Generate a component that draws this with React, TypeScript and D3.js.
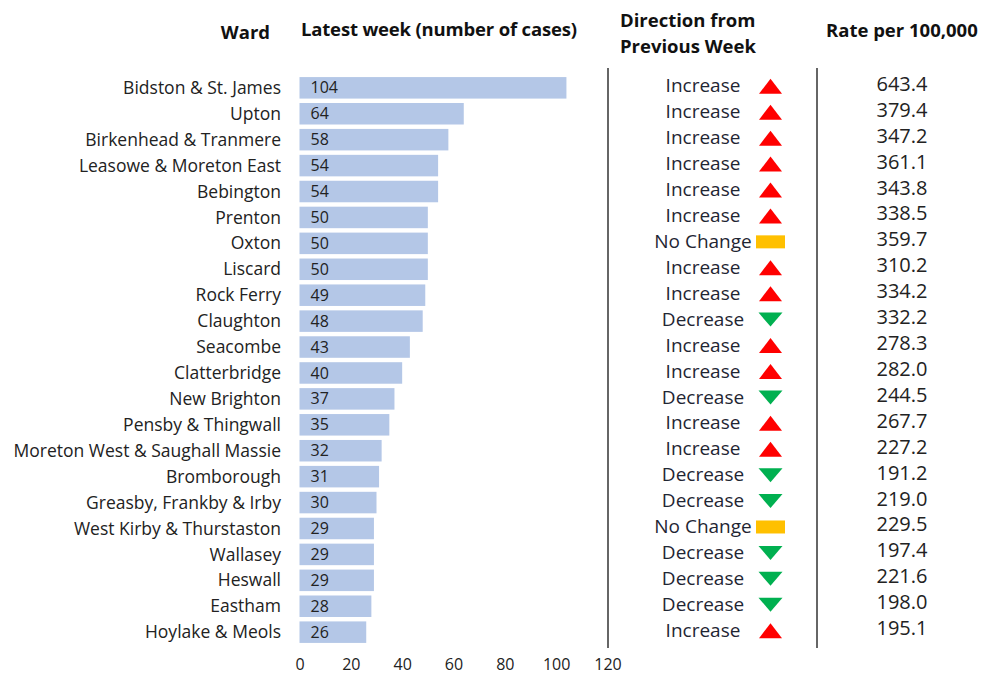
import React, { useRef, useEffect } from 'react';
import * as d3 from 'd3';

const wards = [
  'Bidston & St. James', 'Upton', 'Birkenhead & Tranmere', 'Leasowe & Moreton East', 'Bebington',
  'Prenton', 'Oxton', 'Liscard', 'Rock Ferry', 'Claughton', 'Seacombe', 'Clatterbridge',
  'New Brighton', 'Pensby & Thingwall', 'Moreton West & Saughall Massie', 'Bromborough',
  'Greasby, Frankby & Irby', 'West Kirby & Thurstaston', 'Wallasey', 'Heswall', 'Eastham', 'Hoylake & Meols',
];
const cases = [104, 64, 58, 54, 54, 50, 50, 50, 49, 48, 43, 40, 37, 35, 32, 31, 30, 29, 29, 29, 28, 26];
const directions = [
  'Increase', 'Increase', 'Increase', 'Increase', 'Increase', 'Increase', 'No Change', 'Increase',
  'Increase', 'Decrease', 'Increase', 'Increase', 'Decrease', 'Increase', 'Increase', 'Decrease',
  'Decrease', 'No Change', 'Decrease', 'Decrease', 'Decrease', 'Increase',
];
const rates = [
  '643.4', '379.4', '347.2', '361.1', '343.8', '338.5', '359.7', '310.2', '334.2', '332.2', '278.3',
  '282.0', '244.5', '267.7', '227.2', '191.2', '219.0', '229.5', '197.4', '221.6', '198.0', '195.1',
];
const xTicks = [0, 20, 40, 60, 80, 100, 120];

const FONT = '"Open Sans", Lato, sans-serif';

export default function App() {
  const svgRef = useRef(null);

  useEffect(() => {
    const width = 981;
    const height = 676;
    const svg = d3.select(svgRef.current)
      .attr('width', width)
      .attr('height', height)
      .style('font-family', FONT);
    svg.selectAll('*').remove();

    const x = d3.scaleLinear().domain([0, 120]).range([299.5, 607.5]);
    const y = d3.scaleBand().domain(wards).range([75, 645]).paddingInner(0.17).paddingOuter(0.08);
    const rowMid = (i) => y(wards[i]) + y.bandwidth() / 2;

    // headers
    const hdr = svg.append('g').attr('font-weight', 700).attr('font-size', 18.5).attr('fill', '#111');
    hdr.append('text').attr('x', 270).attr('y', 39).attr('text-anchor', 'end').text('Ward');
    hdr.append('text').attr('x', 301).attr('y', 36).attr('textLength', 276).text('Latest week (number of cases)');
    hdr.append('text').attr('x', 620).attr('y', 27).text('Direction from');
    hdr.append('text').attr('x', 620).attr('y', 53).text('Previous Week');
    hdr.append('text').attr('x', 826).attr('y', 37).text('Rate per 100,000');

    // bars
    svg.append('g').selectAll('rect')
      .data(cases)
      .enter().append('rect')
      .attr('x', x(0))
      .attr('y', (d, i) => y(wards[i]))
      .attr('width', d => x(d) - x(0))
      .attr('height', y.bandwidth())
      .attr('fill', '#b4c7e7');

    svg.append('g').selectAll('text')
      .data(cases)
      .enter().append('text')
      .attr('x', x(0) + 11)
      .attr('y', (d, i) => rowMid(i))
      .attr('dy', '0.35em')
      .attr('font-size', 16)
      .attr('fill', '#222')
      .text(d => d);

    // ward labels
    svg.append('g').selectAll('text')
      .data(wards)
      .enter().append('text')
      .attr('x', 281)
      .attr('y', (d, i) => rowMid(i))
      .attr('dy', '0.35em')
      .attr('text-anchor', 'end')
      .attr('font-size', 17.5)
      .attr('fill', '#222')
      .text(d => d);

    // x axis
    const axis = svg.append('g')
      .attr('transform', 'translate(0,651)')
      .call(d3.axisBottom(x).tickValues(xTicks).tickSize(0).tickPadding(8));
    axis.select('.domain').remove();
    axis.selectAll('text').attr('font-size', 16).attr('fill', '#222').style('font-family', FONT);

    // separators
    [608, 817].forEach(lx => {
      svg.append('line')
        .attr('x1', lx).attr('x2', lx)
        .attr('y1', 68).attr('y2', 648)
        .attr('stroke', '#333').attr('stroke-width', 1.5);
    });

    // direction text
    svg.append('g').selectAll('text')
      .data(directions)
      .enter().append('text')
      .attr('x', 703)
      .attr('y', (d, i) => rowMid(i) - 2)
      .attr('dy', '0.35em')
      .attr('text-anchor', 'middle')
      .attr('font-size', 19)
      .attr('fill', '#1f2633')
      .text(d => d);

    // direction icons
    const icons = svg.append('g');
    directions.forEach((d, i) => {
      const cx = 770.5;
      const cy = rowMid(i) - 1.5;
      if (d === 'Increase') {
        icons.append('path')
          .attr('d', `M${cx - 11.5},${cy + 7.5}L${cx + 11.5},${cy + 7.5}L${cx},${cy - 7.5}Z`)
          .attr('fill', '#ff0000');
      } else if (d === 'Decrease') {
        icons.append('path')
          .attr('d', `M${cx - 12},${cy - 7}L${cx + 12},${cy - 7}L${cx},${cy + 7}Z`)
          .attr('fill', '#00b050');
      } else {
        icons.append('rect')
          .attr('x', cx - 14.5).attr('y', cy - 6.5)
          .attr('width', 29).attr('height', 13)
          .attr('fill', '#ffc000');
      }
    });

    // rates
    svg.append('g').selectAll('text')
      .data(rates)
      .enter().append('text')
      .attr('x', 902)
      .attr('y', (d, i) => rowMid(i) - 4)
      .attr('dy', '0.35em')
      .attr('text-anchor', 'middle')
      .attr('font-size', 20)
      .attr('fill', '#222')
      .text(d => d);

    return () => {
      d3.select(svgRef.current).selectAll('*').remove();
    };
  }, []);

  return (
    <svg ref={svgRef} style={{ position: 'absolute', left: 0, top: 0, background: '#fff' }}></svg>
  );
}
